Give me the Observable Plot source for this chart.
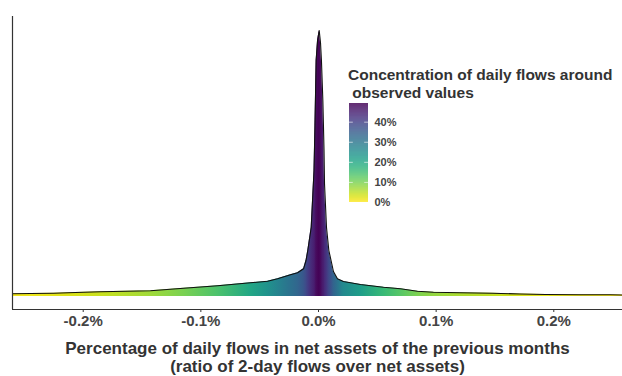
<!DOCTYPE html>
<html>
<head>
<meta charset="utf-8">
<script src="https://cdn.jsdelivr.net/npm/d3@7"></script>
<script src="https://cdn.jsdelivr.net/npm/@observablehq/plot@0.6"></script>
<style>
  html, body { margin: 0; padding: 0; background: #fff; }
  #wrap { position: relative; width: 622px; height: 376px; font-family: "Liberation Sans", Arial, sans-serif; }
  #legtitle { position: absolute; left: 348px; top: 66px; font-size: 15.5px; font-weight: bold; line-height: 18px; color: #333; white-space: pre; }
  #leg { position: absolute; left: 340px; top: 98px; }
</style>
</head>
<body>
<div id="wrap"></div>
<script>
// Flow ratio, in % of net assets (x)
const flowPct = [-0.2601, -0.2448, -0.2252, -0.2065, -0.1853, -0.1640, -0.1428, -0.1147, -0.0858, -0.0578,
  -0.0433, -0.0348, -0.0238, -0.0178, -0.0127, -0.0106, -0.0091, -0.0062, -0.0038, -0.0030,
  -0.0020, -0.0008, 0.0006, 0.0017, 0.0025, 0.0037, 0.0047, 0.0051, 0.0068, 0.0088,
  0.0116, 0.0127, 0.0161, 0.0212, 0.0357, 0.0552, 0.0697, 0.0841, 0.0977, 0.1207,
  0.1479, 0.1717, 0.1929, 0.2227, 0.2482, 0.2584];
// Density (arbitrary units)
const density = [2.7, 3.0, 3.3, 4.0, 4.7, 5.3, 5.7, 8.3, 10.7, 13.7,
  15.3, 17.7, 21.7, 23.7, 27.7, 36, 46, 69, 126, 171,
  236, 256, 266, 254, 236, 196, 146, 113, 69, 46,
  31, 25, 17.7, 15, 12, 9.3, 7.7, 5.3, 4.3, 3.7,
  3.3, 2.5, 2.0, 1.8, 1.7, 1.5];
// Concentration of daily flows around observed values (%)
const concentration = [1, 1.5, 2, 3, 4, 5.5, 7, 10, 14, 20,
  24, 27, 31, 33, 36, 38, 40, 43, 45, 46,
  47.5, 48.5, 49, 48.5, 47.5, 46, 45, 44, 42, 39,
  36, 34, 31, 26, 22, 16, 13, 10, 8, 6,
  4.5, 3, 2, 1.2, 0.8, 0.5];
const xTicks = [-0.2, -0.1, 0, 0.1, 0.2];
const legendTicks = [0, 10, 20, 30, 40];
const concMax = 49.3;
const xTitle = "Percentage of daily flows in net assets of the previous months\n(ratio of 2-day flows over net assets)";
const legendTitle = "Concentration of daily flows around\n observed values";

const data = flowPct.map((x, i) => ({x, y: density[i], c: concentration[i]}));
const xDomain = [flowPct[0], flowPct[flowPct.length - 1]];
const yDomain = [-13, 280];

const colorOpts = {type: "linear", scheme: "viridis", domain: [0, concMax], reverse: true};
const colorScale = Plot.scale({color: colorOpts});

const main = Plot.plot({
  width: 622, height: 376,
  marginLeft: 12, marginRight: 0, marginTop: 16, marginBottom: 67,
  style: {fontFamily: "'Liberation Sans', Arial, sans-serif", background: "white"},
  x: {domain: xDomain},
  y: {domain: yDomain, axis: null},
  marks: [
    Plot.areaY(data, {x: "x", y: "y", fill: "url(#flowgrad)", curve: "linear"}),
    Plot.lineY(data, {x: "x", y: "y", stroke: "#111", strokeWidth: 1.1}),
    Plot.ruleY([yDomain[0]], {stroke: "#333", strokeWidth: 1.2}),
    Plot.ruleX([xDomain[0]], {stroke: "#333", strokeWidth: 1.2}),
    Plot.axisX({ticks: xTicks, tickFormat: d => (d < 0 ? "-" : "") + Math.abs(d).toFixed(1) + "%",
      tickSize: 3, tickPadding: 3, fontSize: 15, fontWeight: "bold", color: "#444", stroke: "#333", label: null}),
    Plot.text([xTitle], {frameAnchor: "bottom", dy: 48, lineAnchor: "middle", fontSize: 17,
      fontWeight: "bold", fill: "#333", lineHeight: 1.06})
  ]
});

// gradient driven by the x and color scales
const xs = main.scale("x");
const svgNS = "http://www.w3.org/2000/svg";
const defs = document.createElementNS(svgNS, "defs");
const grad = document.createElementNS(svgNS, "linearGradient");
grad.setAttribute("id", "flowgrad");
grad.setAttribute("gradientUnits", "userSpaceOnUse");
const gx1 = xs.apply(xDomain[0]), gx2 = xs.apply(xDomain[1]);
grad.setAttribute("x1", gx1); grad.setAttribute("x2", gx2);
grad.setAttribute("y1", 0); grad.setAttribute("y2", 0);
data.forEach(d => {
  const s = document.createElementNS(svgNS, "stop");
  s.setAttribute("offset", (xs.apply(d.x) - gx1) / (gx2 - gx1));
  s.setAttribute("stop-color", colorScale.apply(d.c));
  grad.appendChild(s);
});
defs.appendChild(grad);
main.insertBefore(defs, main.firstChild);

const wrap = document.getElementById("wrap");
wrap.appendChild(main);

const lt = document.createElement("div");
lt.id = "legtitle";
lt.textContent = legendTitle;
wrap.appendChild(lt);

// color bar legend
const ramp = d3.range(0, concMax, 0.25).map(v => ({y1: v, y2: Math.min(v + 0.3, concMax)}));
const leg = Plot.plot({
  width: 80, height: 110,
  marginLeft: 9, marginRight: 52, marginTop: 5, marginBottom: 6,
  style: {fontFamily: "'Liberation Sans', Arial, sans-serif", background: "transparent", overflow: "visible"},
  x: {domain: [0, 1], axis: null},
  y: {domain: [0, concMax], axis: null},
  color: colorOpts,
  marks: [
    Plot.rect(ramp, {x1: 0, x2: 1, y1: "y1", y2: "y2", fill: d => (d.y1 + d.y2) / 2}),
    Plot.ruleY(legendTicks.slice(1), {x1: 0, x2: 0.2, stroke: "white", strokeOpacity: 0.6}),
    Plot.ruleY(legendTicks.slice(1), {x1: 0.8, x2: 1, stroke: "white", strokeOpacity: 0.6}),
    Plot.axisY({anchor: "right", ticks: legendTicks, tickFormat: d => d + "%", tickSize: 0, tickPadding: 6,
      fontSize: 11, fontWeight: "bold", color: "#444", label: null})
  ]
});
const legDiv = document.createElement("div");
legDiv.id = "leg";
legDiv.appendChild(leg);
wrap.appendChild(legDiv);
</script>
</body>
</html>
